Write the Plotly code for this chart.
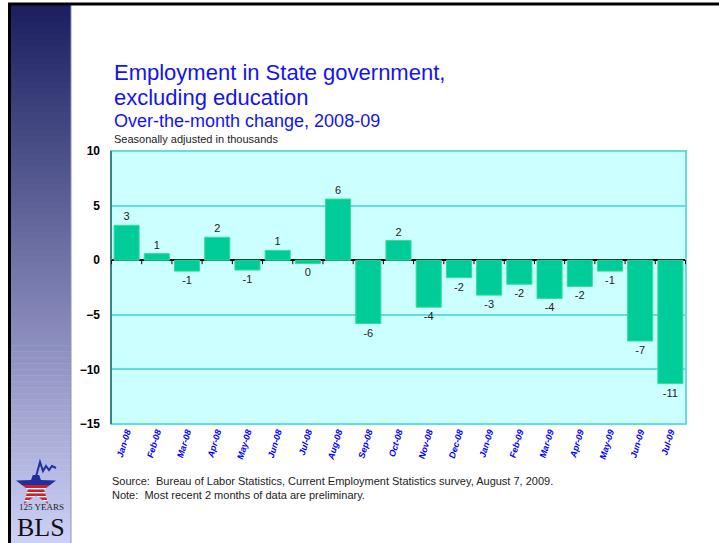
import math
import plotly.graph_objects as go

# ---- data ----
months = ["Jan-08", "Feb-08", "Mar-08", "Apr-08", "May-08", "Jun-08", "Jul-08", "Aug-08",
          "Sep-08", "Oct-08", "Nov-08", "Dec-08", "Jan-09", "Feb-09", "Mar-09", "Apr-09",
          "May-09", "Jun-09", "Jul-09"]
changes = [3.2, 0.6, -1.0, 2.1, -0.9, 0.9, -0.3, 5.6,
           -5.8, 1.8, -4.3, -1.6, -3.2, -2.2, -3.5, -2.4,
           -1.0, -7.4, -11.3]
labels = ["3", "1", "-1", "2", "-1", "1", "0", "6",
          "-6", "2", "-4", "-2", "-3", "-2", "-4", "-2",
          "-1", "-7", "-11"]
y_ticks = [10, 5, 0, -5, -10, -15]

W, H = 719, 543
L, R, T, B = 111, 33, 151, 119
PW, PH = W - L - R, H - T - B


def px(x):
    return (x - L) / PW


def py(y):
    return (H - B - y) / PH


fig = go.Figure()
fig.add_trace(go.Bar(
    x=months, y=changes, text=labels, textposition="outside",
    constraintext="none", cliponaxis=False,
    textfont=dict(family="Liberation Sans, Arial", size=11, color="#222222"),
    marker=dict(color="#00cc99", line=dict(color="#33dd99", width=1)),
    hoverinfo="skip",
))

shapes = []
# sidebar gradient
c_top = (27, 32, 96)
c_bot = (205, 208, 245)
n = 90
y_start, y_end = 4, 543
for i in range(n):
    t = i / (n - 1)
    c = tuple(int(c_top[k] + (c_bot[k] - c_top[k]) * t) for k in range(3))
    ya = y_start + (y_end - y_start) * i / n
    yb = y_start + (y_end - y_start) * (i + 1) / n + 0.5
    shapes.append(dict(type="rect", xref="paper", yref="paper",
                       x0=px(10), x1=px(71), y0=py(ya), y1=py(yb),
                       line=dict(width=0), fillcolor="rgb(%d,%d,%d)" % c, layer="below"))
shapes.append(dict(type="line", xref="paper", yref="paper", x0=px(71), x1=px(71),
                   y0=py(4), y1=py(543), line=dict(color="#8a8fd0", width=1)))
# black frame lines
shapes.append(dict(type="line", xref="paper", yref="paper", x0=px(8), x1=px(719),
                   y0=py(4), y1=py(4), line=dict(color="black", width=3)))
shapes.append(dict(type="line", xref="paper", yref="paper", x0=px(9.5), x1=px(9.5),
                   y0=py(3), y1=py(543), line=dict(color="black", width=3)))
# plot frame
shapes.append(dict(type="rect", xref="paper", yref="paper", x0=0, x1=1, y0=0, y1=1,
                   line=dict(color="#66dddd", width=2), layer="above"))
shapes.append(dict(type="line", xref="paper", yref="paper", x0=0, x1=0, y0=0, y1=1,
                   line=dict(color="#2a6a6a", width=1.5), layer="above"))
# tick marks on zero line at category boundaries
for i in range(len(months) + 1):
    shapes.append(dict(type="line", xref="x", yref="y", x0=i - 0.5, x1=i - 0.5,
                       ysizemode="pixel", yanchor=0, y0=0, y1=-4,
                       line=dict(color="black", width=1)))

# BLS logo star
cx, cy, ro, ri = 36, 487, 21, 8.5
star = []
for k in range(10):
    ang = -math.pi / 2 + k * math.pi / 5
    r = ro if k % 2 == 0 else ri
    star.append((cx + r * math.cos(ang), cy + r * math.sin(ang)))


def clip(poly, ymin, ymax):
    def clip_edge(pts, keep, yl):
        out = []
        for j in range(len(pts)):
            a, b = pts[j - 1], pts[j]
            ka, kb = keep(a[1]), keep(b[1])
            if kb:
                if not ka:
                    t = (yl - a[1]) / (b[1] - a[1])
                    out.append((a[0] + t * (b[0] - a[0]), yl))
                out.append(b)
            elif ka:
                t = (yl - a[1]) / (b[1] - a[1])
                out.append((a[0] + t * (b[0] - a[0]), yl))
        return out
    p = clip_edge(poly, lambda y: y >= ymin, ymin)
    if p:
        p = clip_edge(p, lambda y: y <= ymax, ymax)
    return p


def path_of(pts):
    return "M " + " L ".join("%.5f,%.5f" % (px(x), py(y)) for x, y in pts) + " Z"


shapes.append(dict(type="path", xref="paper", yref="paper", path=path_of(clip(star, 475, 485)),
                   fillcolor="#1f2f9f", line=dict(width=0)))
bands = [(485, 488, "#cc1f2a"), (488, 489.5, "white"), (489.5, 492, "#cc1f2a"), (492, 493.5, "white"),
         (493.5, 496, "#cc1f2a"), (496, 497.5, "white"), (497.5, 500, "#cc1f2a"), (500, 501.5, "white"),
         (501.5, 512, "#cc1f2a")]
for y0, y1, col in bands:
    p = clip(star, y0, y1)
    if len(p) >= 3:
        shapes.append(dict(type="path", xref="paper", yref="paper", path=path_of(p),
                           fillcolor=col, line=dict(width=0)))
chart = [(33, 485), (37, 473), (40, 462), (43, 471), (46, 466), (49, 470), (52, 466), (56, 468)]
shapes.append(dict(type="path", xref="paper", yref="paper",
                   path="M " + " L ".join("%.5f,%.5f" % (px(x), py(y)) for x, y in chart),
                   line=dict(color="#1f2f9f", width=2)))

ann = []


def text(x, y, s, size, color, family="Liberation Sans, Arial", anchor="left", yanchor="middle"):
    ann.append(dict(xref="paper", yref="paper", x=px(x), y=py(y), text=s, showarrow=False,
                    xanchor=anchor, yanchor=yanchor, borderpad=0,
                    font=dict(family=family, size=size, color=color)))


text(113, 73, "Employment in State government,", 22, "#1414f0")
text(113, 97, "excluding education", 22, "#1414f0")
text(113, 121, "Over-the-month change, 2008-09", 18, "#1414f0")
text(113, 139, "Seasonally adjusted in thousands", 11, "#222222")
text(111, 481, "Source:  Bureau of Labor Statistics, Current Employment Statistics survey, August 7, 2009.",
     11, "#222222")
text(111, 495, "Note:  Most recent 2 months of data are preliminary.", 11, "#222222")
text(41, 507, "125 YEARS", 9, "#222222", family="Liberation Serif, Times New Roman", anchor="center")
text(41, 543, "BLS", 26, "#111111", family="Liberation Serif, Times New Roman", anchor="center",
     yanchor="bottom")

fig.update_layout(
    width=W, height=H,
    margin=dict(l=L, r=R, t=T, b=B, pad=0),
    paper_bgcolor="white", plot_bgcolor="#ccffff",
    showlegend=False, bargap=0.17,
    shapes=shapes, annotations=ann,
    xaxis=dict(type="category", showgrid=False, showline=False, ticks="",
               tickangle=-73, tickfont=dict(family="Liberation Sans, Arial", size=9,
                                            color="#0000ff", weight="bold", style="italic"),
               fixedrange=True),
    yaxis=dict(range=[-15, 10], tickvals=y_ticks, showgrid=True, gridcolor="#66dddd",
               gridwidth=1.5, zeroline=True, zerolinecolor="black", zerolinewidth=1.5,
               ticks="", ticklabelstandoff=10,
               tickfont=dict(family="Liberation Sans, Arial", size=12, color="black", weight="bold"),
               fixedrange=True),
)

fig.write_html("out.html", config={"displayModeBar": False},
               post_script="document.body.style.margin='0';document.body.style.overflow='hidden';")
